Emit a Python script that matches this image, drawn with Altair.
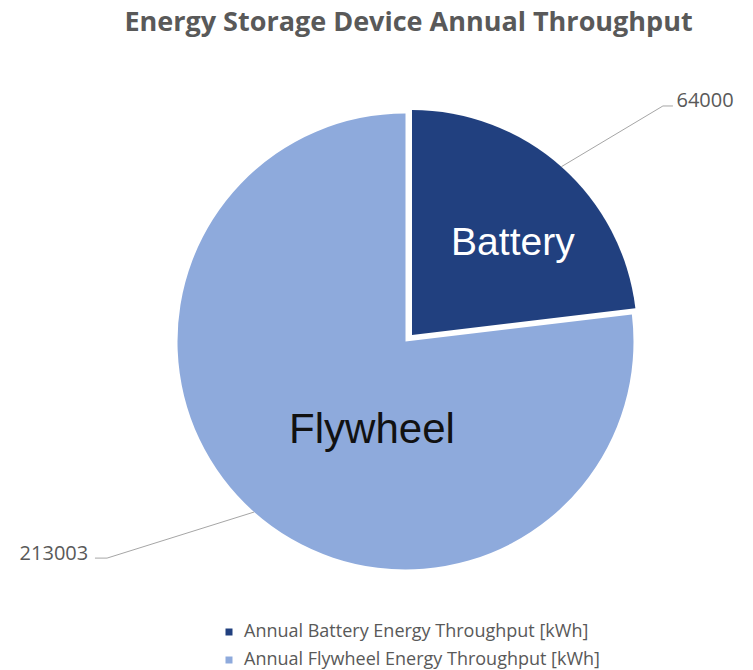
import math

import altair as alt
import pandas as pd

# ---- data -------------------------------------------------------------
slices = ["Battery", "Flywheel"]
throughput_kwh = [64000, 213003]
legend_labels = [
    "Annual Battery Energy Throughput [kWh]",
    "Annual Flywheel Energy Throughput [kWh]",
]

# ---- styling ----------------------------------------------------------
slice_colors = ["#21407F", "#8EAADC"]
name_colors = ["#FFFFFF", "#111111"]
name_sizes = [39, 42]
GREY_TEXT = "#595959"
LEADER_GREY = "#A6A6A6"
UI_FONT = "Open Sans"

# ---- layout (pixels) --------------------------------------------------
W, H, PAD_TOP = 753, 620, 50
CX, CY = 405.5, 291.5          # pie centre inside the plot area
R = 228.0                      # pie radius
slice_radius = [225.0, 228.0]
explode_px = [(6.5, 6.5), (0.0, 0.0)]   # battery wedge pulled out (right, up)

# label placement, in pie-radius units relative to the centre (y up)
name_pos = [(0.471, 0.432), (-0.147, -0.388)]
value_pos = [(1.314, 1.053), (-1.542, -0.930)]
leader_elbow = [(1.129, 1.033), (-1.309, -0.950)]
leader_tail = [0.044, -0.053]

# plot-area extents expressed in pie-radius units
x_dom = [-CX / R, (W - CX) / R]
y_dom = [-(H - CY) / R, CY / R]

total = sum(throughput_kwh)
rows, lines = [], []
cum = 0.0
for i, (name, v) in enumerate(zip(slices, throughput_kwh)):
    start, end = cum, cum + v
    cum = end
    mid = (start + end) / 2 / total * 2 * math.pi
    ox, oy = explode_px[i][0] / R, explode_px[i][1] / R
    rows.append(dict(
        slice=name, legend=legend_labels[i], value=v,
        start=start, end=end, r=slice_radius[i],
        cx=ox, cy=oy,
        nx=name_pos[i][0], ny=name_pos[i][1],
        vx=value_pos[i][0], vy=value_pos[i][1],
        label=str(v), ncolor=name_colors[i], nsize=name_sizes[i],
    ))
    # leader line: wedge edge at mid-angle -> elbow -> short horizontal tail
    rr = slice_radius[i] / R
    p0 = (ox + rr * math.sin(mid), oy + rr * math.cos(mid))
    p1 = leader_elbow[i]
    p2 = (p1[0] + leader_tail[i], p1[1])
    for k, (px, py) in enumerate([p0, p1, p2]):
        lines.append(dict(slice=name, k=k, x=px, y=py))

df = pd.DataFrame(rows)
df_lines = pd.DataFrame(lines)

xs = alt.Scale(domain=x_dom, nice=False, zero=False)
ys = alt.Scale(domain=y_dom, nice=False, zero=False)

base = alt.Chart(df)

arcs = base.mark_arc(stroke=None).encode(
    x=alt.X("cx:Q", scale=xs, axis=None),
    y=alt.Y("cy:Q", scale=ys, axis=None),
    theta=alt.Theta("start:Q", scale=alt.Scale(domain=[0, total], range=[0, 2 * math.pi])),
    theta2="end:Q",
    radius=alt.Radius("r:Q", scale=None),
    color=alt.Color(
        "legend:N",
        scale=alt.Scale(domain=legend_labels, range=slice_colors),
        legend=alt.Legend(
            title=None, orient="none", legendX=220, legendY=573,
            direction="vertical", symbolType="square", symbolSize=49,
            symbolStrokeWidth=0, labelFont=UI_FONT, labelFontSize=18,
            labelColor=GREY_TEXT, rowPadding=10, labelOffset=6, labelLimit=0,
        ),
    ),
)

leaders = alt.Chart(df_lines).mark_line(color=LEADER_GREY, strokeWidth=1).encode(
    x=alt.X("x:Q", scale=xs, axis=None),
    y=alt.Y("y:Q", scale=ys, axis=None),
    detail="slice:N",
    order="k:Q",
)

values = base.mark_text(font=UI_FONT, fontSize=20, color=GREY_TEXT, align="center", baseline="middle").encode(
    x=alt.X("vx:Q", scale=xs, axis=None),
    y=alt.Y("vy:Q", scale=ys, axis=None),
    text="label:N",
)

names = base.mark_text(font="Liberation Sans", align="center", baseline="middle").encode(
    x=alt.X("nx:Q", scale=xs, axis=None),
    y=alt.Y("ny:Q", scale=ys, axis=None),
    text="slice:N",
    color=alt.Color("ncolor:N", scale=None),
    size=alt.Size("nsize:Q", scale=None),
)

chart = (
    alt.layer(arcs, leaders, values, names)
    .properties(
        width=W,
        height=H,
        autosize="none",
        background="white",
        padding={"top": PAD_TOP, "left": 0, "right": 0, "bottom": 0},
        title=alt.TitleParams(
            "Energy Storage Device Annual Throughput",
            font=UI_FONT, fontSize=27, fontWeight="bold", color=GREY_TEXT,
            anchor="middle", offset=13, dx=32,
        ),
    )
    .configure_view(strokeWidth=0)
)

chart.save("out.html", embed_options={"renderer": "svg", "actions": False})
